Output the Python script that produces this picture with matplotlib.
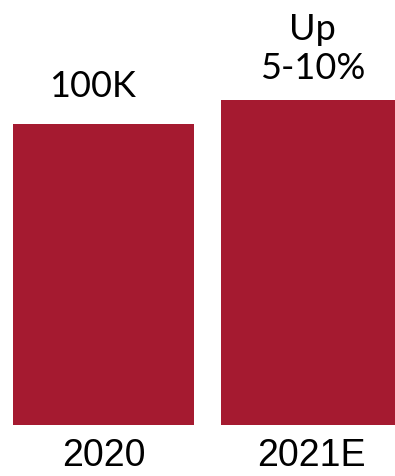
import matplotlib.pyplot as plt

years = ["2020", "2021E"]
values = [100, 108]
labels = ["100K", "Up\n5-10%"]

fig = plt.figure(figsize=(3.95, 4.77), dpi=100)
ax = fig.add_axes([13 / 395, 51 / 477, 382 / 395, 426 / 477])

bars = ax.bar([0, 1], values, width=0.87, color="#A51A30")
ax.set_xlim(-0.435, 1.4015)
ax.set_ylim(0, 141.5)

ax.set_xticks([0, 1])
ax.set_xticklabels(years, fontsize=27, family="Liberation Sans")
ax.tick_params(axis="x", length=0, pad=9)
for t, dx in zip(ax.get_xticklabels(), [-3, -3]):
    t.set_x(t.get_position()[0])
ax.set_yticks([])
for s in ax.spines.values():
    s.set_visible(False)

offsets = [(-11, 22), (1, 16)]
for b, lab, off in zip(bars, labels, offsets):
    ax.annotate(lab, (b.get_x() + b.get_width() / 2, b.get_height()),
                xytext=off, textcoords="offset pixels", ha="center", va="bottom",
                fontsize=26, family="Lato", linespacing=1.2)

fig.savefig("out.png", dpi=100)
